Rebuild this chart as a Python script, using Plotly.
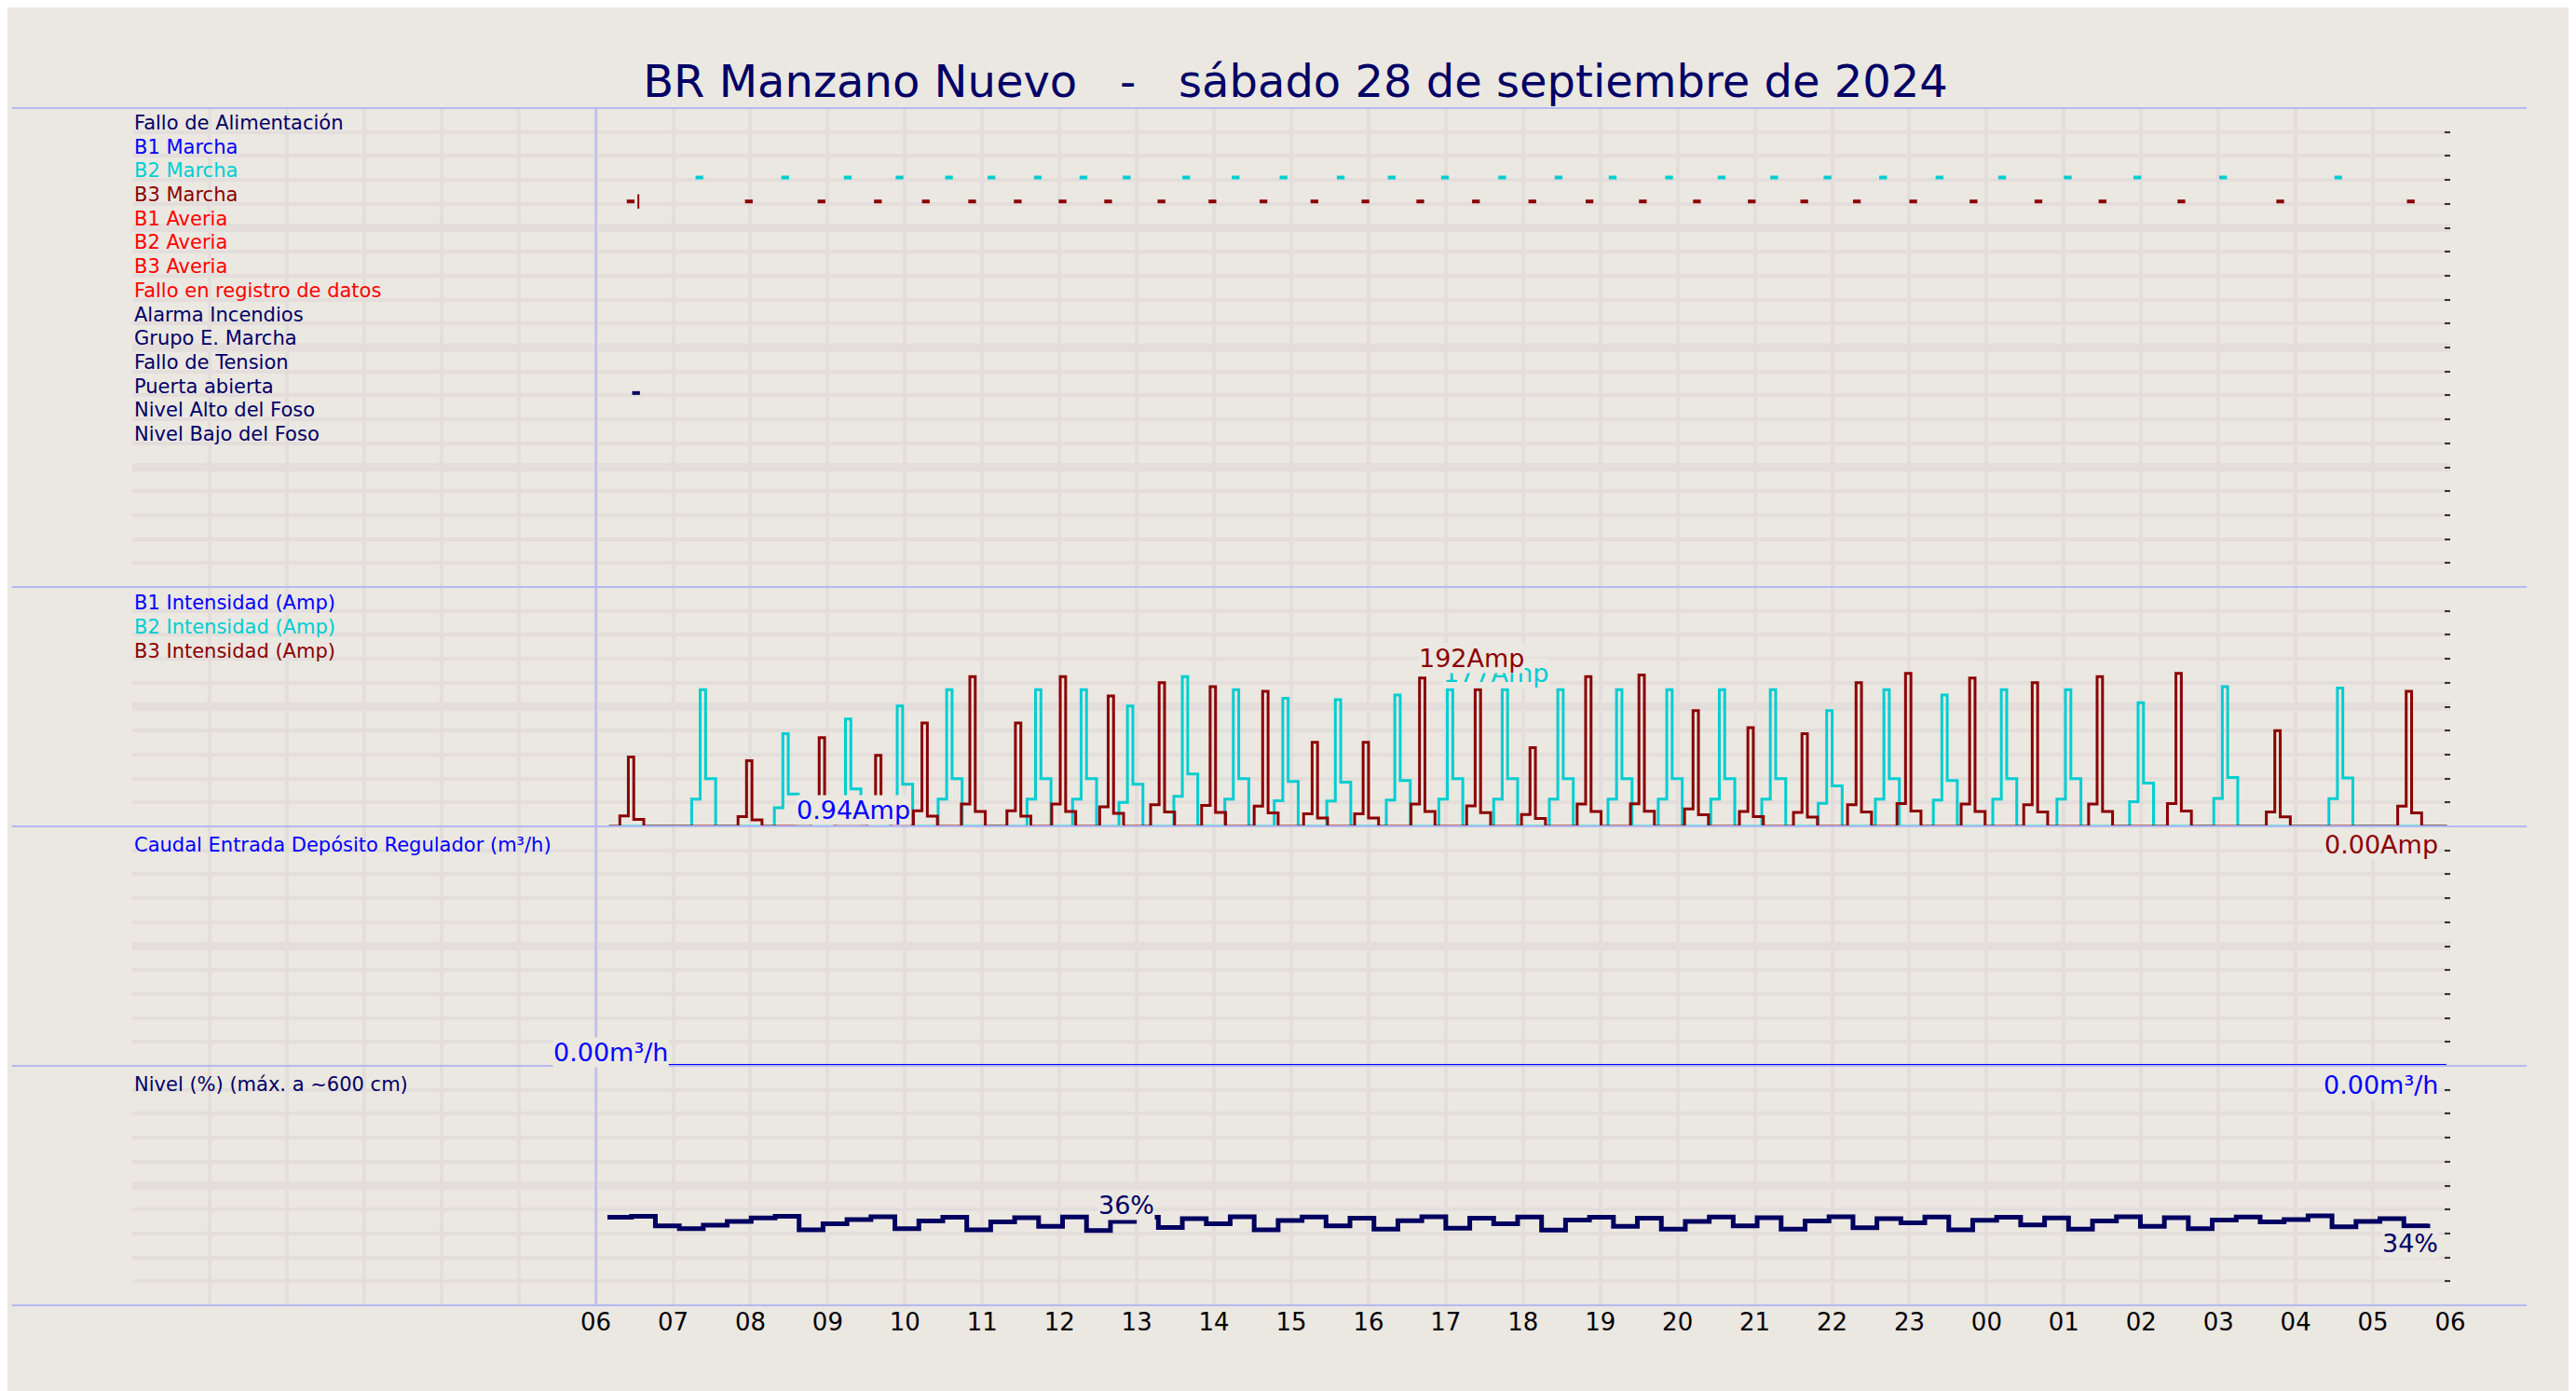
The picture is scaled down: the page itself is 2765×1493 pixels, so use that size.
import plotly.graph_objects as go
from plotly.subplots import make_subplots

# ---- data (hours since 00:00 of 28 Sep; 24+ = next day) ----
hour_ticks = list(range(6, 31))
hour_labels = ['06', '07', '08', '09', '10', '11', '12', '13', '14', '15', '16', '17', '18',
               '19', '20', '21', '22', '23', '00', '01', '02', '03', '04', '05', '06']

signal_names = ['Fallo de Alimentación', 'B1 Marcha', 'B2 Marcha', 'B3 Marcha', 'B1 Averia',
                'B2 Averia', 'B3 Averia', 'Fallo en registro de datos', 'Alarma Incendios',
                'Grupo E. Marcha', 'Fallo de Tension', 'Puerta abierta', 'Nivel Alto del Foso',
                'Nivel Bajo del Foso']
signal_colors = ['#000066', '#0000ff', '#00ced1', '#8b0000', '#ff0000', '#ff0000', '#ff0000',
                 '#ff0000', '#000066', '#000066', '#000066', '#000066', '#000066', '#000066']

b2_marcha = [7.34, 8.45, 9.26, 9.93, 10.57, 11.12, 11.72, 12.31, 12.87, 13.64, 14.28, 14.90,
             15.64, 16.30, 16.99, 17.73, 18.46, 19.16, 19.89, 20.57, 21.25, 21.94, 22.66,
             23.39, 24.20, 25.05, 25.95, 27.06, 28.55]
b3_marcha = [6.45, 7.98, 8.92, 9.65, 10.27, 10.87, 11.46, 12.04, 12.63, 13.32, 13.98, 14.64,
             15.30, 15.96, 16.67, 17.39, 18.12, 18.86, 19.55, 20.25, 20.96, 21.64, 22.32,
             23.05, 23.83, 24.67, 25.50, 26.52, 27.80, 29.49]
puerta_abierta = [6.52]

# pump current cycles: time of peak and peak current (Amp)
b2_peak_t = [7.38, 8.45, 9.26, 9.93, 10.57, 11.72, 12.31, 12.91, 13.62, 14.28, 14.92,
             15.60, 16.37, 17.05, 17.76, 18.48, 19.24, 19.89, 20.57, 21.23, 21.96, 22.70,
             23.45, 24.22, 25.05, 25.99, 27.08, 28.57]
b2_peak_a = [177, 120, 139, 156, 177, 177, 177, 156, 194, 177, 166, 164, 170, 177, 177, 177,
             177, 177, 177, 177, 150, 177, 170, 177, 177, 160, 181, 179]
b3_peak_t = [6.45, 7.98, 8.92, 9.65, 10.25, 10.87, 11.46, 12.04, 12.66, 13.32, 13.98, 14.66,
             15.30, 15.96, 16.69, 17.41, 18.12, 18.84, 19.53, 20.23, 20.94, 21.64, 22.34,
             22.98, 23.81, 24.62, 25.46, 26.48, 27.76, 29.46]
b3_peak_a = [90, 85, 115, 92, 134, 194, 134, 194, 169, 186, 181, 175, 109, 109, 192, 177,
             102, 194, 196, 150, 128, 120, 186, 198, 192, 186, 194, 198, 124, 175]

nivel_t0, nivel_dt = 6.15, 0.31
nivel = [36.8, 37.2, 33.2, 32.0, 33.5, 35.0, 36.5, 37.2, 31.5, 34.0, 35.8, 37.0, 32.0, 35.2,
         36.8, 31.5, 34.8, 36.6, 33.0, 36.9, 31.2, 35.0, 36.8, 32.5, 36.2, 34.0, 37.0, 31.5,
         35.4, 36.9, 33.2, 36.4, 31.8, 35.3, 37.0, 32.2, 36.4, 34.0, 36.9, 31.4, 35.6, 36.8,
         33.0, 36.4, 31.8, 35.0, 36.9, 33.2, 36.6, 31.8, 35.2, 37.0, 32.4, 36.2, 34.4, 36.9,
         31.5, 35.5, 36.8, 33.6, 36.5, 31.8, 35.2, 37.0, 33.0, 36.6, 32.0, 35.6, 36.9, 34.8,
         35.8, 37.4, 32.8, 35.0, 36.2, 33.2, 34.0]
caudal_t = [6.94, 29.95]
caudal = [0.0, 0.0]

t_start, t_end = 6.17, 29.96
BG = '#ebe7e1'
GRID = '#e3dedb'
SEP = '#b4b9f2'
FONT = 'DejaVu Sans'


def current_trace(peak_t, peak_a, low, mid):
    # step profile of a pump cycle: low start, peak, shoulder, off
    xs, ys = [t_start], [0]
    for t, a in zip(peak_t, peak_a):
        xs += [t - 0.14, t - 0.03, t + 0.04, t + 0.17]
        ys += [a * low, a, a * mid, 0]
    xs.append(t_end)
    ys.append(0)
    return xs, ys


fig = make_subplots(rows=4, cols=1, shared_xaxes=True, vertical_spacing=0,
                    row_heights=[2, 1, 1, 1])

# panel 1: digital signals
for times, row, color in [(b2_marcha, 2, '#00ced1'), (b3_marcha, 3, '#8b0000'),
                          (puerta_abierta, 11, '#000066')]:
    xs, ys = [], []
    for t in times:
        xs += [t - 0.05, t + 0.05, None]
        ys += [row + 0.9, row + 0.9, None]
    fig.add_trace(go.Scatter(x=xs, y=ys, mode='lines', line=dict(color=color, width=4),
                             showlegend=False, hoverinfo='skip'), row=1, col=1)
fig.add_trace(go.Scatter(x=[6.55, 6.55], y=[3.6, 4.2], mode='lines',
                         line=dict(color='#8b0000', width=2), showlegend=False), row=1, col=1)

# panel 2: currents
x2, y2 = current_trace(b2_peak_t, b2_peak_a, 0.2, 0.35)
fig.add_trace(go.Scatter(x=x2, y=y2, mode='lines', line=dict(color='#00ced1', width=3, shape='hv'),
                         showlegend=False), row=2, col=1)
x3, y3 = current_trace(b3_peak_t, b3_peak_a, 0.15, 0.1)
fig.add_trace(go.Scatter(x=x3, y=y3, mode='lines', line=dict(color='#8b0000', width=3, shape='hv'),
                         showlegend=False), row=2, col=1)

# panel 3: caudal
fig.add_trace(go.Scatter(x=caudal_t, y=caudal, mode='lines', line=dict(color='#0000ff', width=4),
                         showlegend=False, cliponaxis=False), row=3, col=1)

# panel 4: nivel
nivel_x = [nivel_t0 + i * nivel_dt for i in range(len(nivel))]
fig.add_trace(go.Scatter(x=nivel_x, y=nivel, mode='lines',
                         line=dict(color='#000060', width=5, shape='hv'), showlegend=False),
              row=4, col=1)

yranges = [([20, 0], 1), ([0, 310], 31), ([0, 10], 1), ([0, 100], 10)]
for i, (rng, dt) in enumerate(yranges, start=1):
    fig.update_yaxes(range=rng, dtick=dt, tick0=0, showgrid=True, gridcolor=GRID, gridwidth=4,
                     zeroline=False, showticklabels=False, ticks='inside', ticklen=6,
                     tickcolor='#333333', tickwidth=2, side='right', row=i, col=1)
    lo, hi = min(rng), max(rng)
    k = lo + 5 * dt
    while k < hi:
        fig.add_hline(y=k, line=dict(color=GRID, width=9), layer='below', row=i, col=1)
        k += 5 * dt

for i in range(1, 5):
    fig.update_xaxes(range=[0, 30], tickvals=hour_ticks, ticktext=hour_labels,
                     showticklabels=(i == 4), showgrid=False, zeroline=False,
                     minor=dict(dtick=1, tick0=0, showgrid=True, gridcolor=GRID, gridwidth=4),
                     row=i, col=1)

# row labels
for k, (name, col) in enumerate(zip(signal_names, signal_colors)):
    fig.add_annotation(x=0, y=k + 0.62, xref='x', yref='y', text=name, showarrow=False,
                       xanchor='left', font=dict(size=21, color=col, family=FONT))
for k, (name, col) in enumerate([('B1 Intensidad (Amp)', '#0000ff'),
                                 ('B2 Intensidad (Amp)', '#00ced1'),
                                 ('B3 Intensidad (Amp)', '#8b0000')]):
    fig.add_annotation(x=0, y=289 - 31 * k, xref='x2', yref='y2', text=name, showarrow=False,
                       xanchor='left', font=dict(size=21, color=col, family=FONT))
fig.add_annotation(x=0, y=9.24, xref='x3', yref='y3', text='Caudal Entrada Depósito Regulador (m³/h)',
                   showarrow=False, xanchor='left', font=dict(size=21, color='#0000ff', family=FONT))
fig.add_annotation(x=0, y=92.4, xref='x4', yref='y4', text='Nivel (%) (máx. a ~600 cm)',
                   showarrow=False, xanchor='left', font=dict(size=21, color='#000066', family=FONT))

# value labels (x, y, axes, text, colour, anchor, pixel shift)
vals = [
    (17.65, 199, 'x2', 'y2', '177Amp', '#00ced1', 'center', 0),
    (17.33, 218, 'x2', 'y2', '192Amp', '#8b0000', 'center', 0),
    (9.33, 21, 'x2', 'y2', '0.94Amp', '#0000ff', 'center', 0),
    (29.85, 0, 'x2', 'y2', '0.00Amp', '#8b0000', 'right', -20),
    (6.94, 0.55, 'x3', 'y3', '0.00m³/h', '#0000ff', 'right', 0),
    (29.85, 0, 'x3', 'y3', '0.00m³/h', '#0000ff', 'right', -20),
    (12.87, 42, 'x4', 'y4', '36%', '#000066', 'center', 0),
    (29.85, 26, 'x4', 'y4', '34%', '#000066', 'right', 0),
]
for x, y, xr, yr, txt, col, anc, sh in vals:
    fig.add_annotation(x=x, y=y, xref=xr, yref=yr, text=txt, showarrow=False, xanchor=anc,
                       yshift=sh, bgcolor=BG, borderpad=0,
                       font=dict(size=27, color=col, family=FONT))

# separators
for yp in [1.0, 0.6, 0.4, 0.2, 0.0]:
    fig.add_shape(type='line', xref='paper', yref='paper', x0=-0.052, x1=1.033, y0=yp, y1=yp,
                  line=dict(color=SEP, width=2))
fig.add_shape(type='line', xref='x', yref='paper', x0=6, x1=6, y0=0, y1=1,
              line=dict(color=SEP, width=2))

fig.update_layout(
    width=2765, height=1493,
    paper_bgcolor=BG, plot_bgcolor=BG,
    margin=dict(l=134, r=143, t=108, b=100),
    title=dict(text='BR Manzano Nuevo   -   sábado 28 de septiembre de 2024', x=0.5, y=0.958,
               xanchor='center', font=dict(size=48, color='#000066', family=FONT)),
    font=dict(family=FONT, size=26, color='#000000'),
)

fig.write_html("out.html")
